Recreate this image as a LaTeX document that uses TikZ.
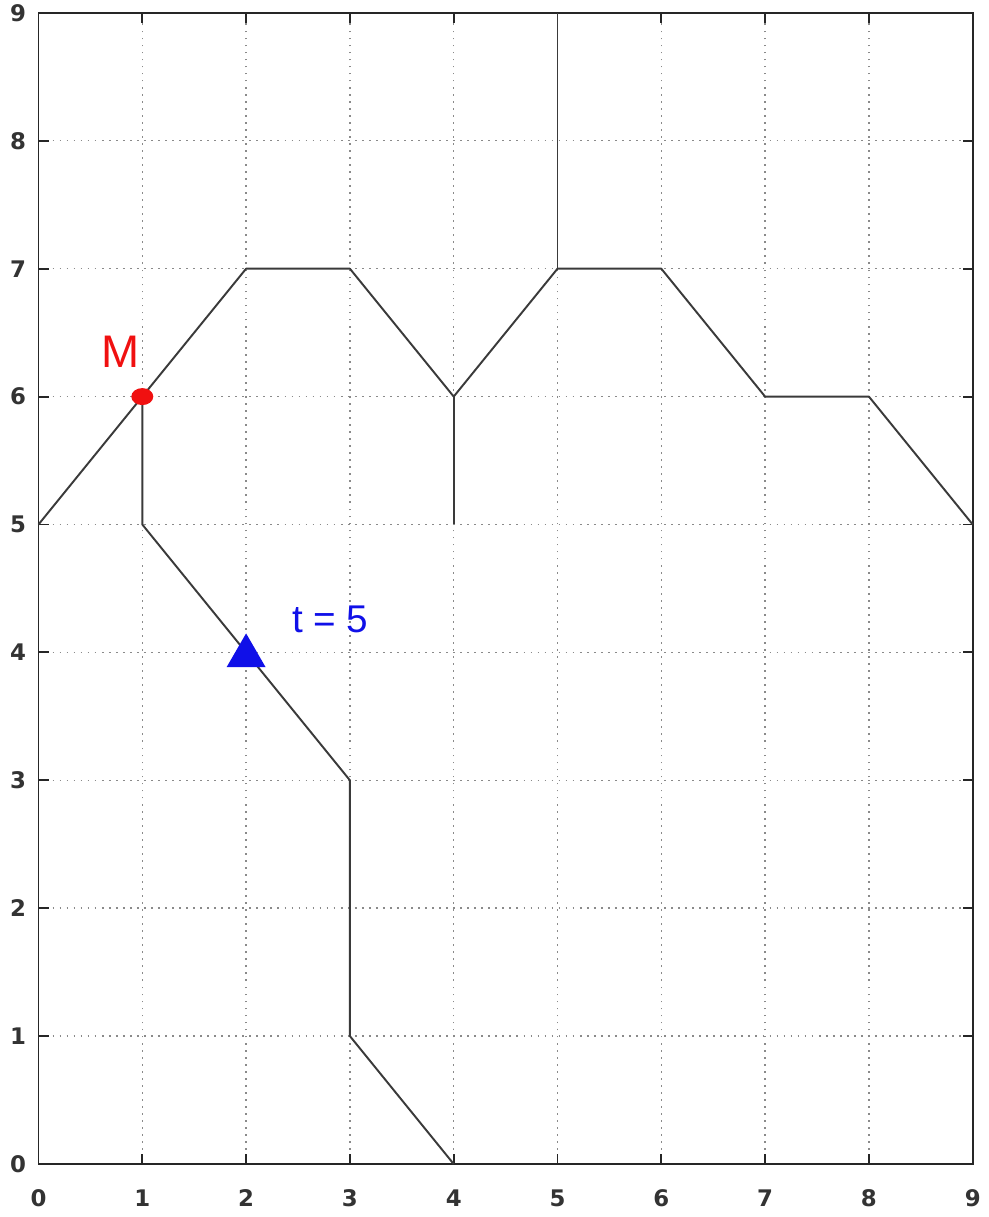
\documentclass[tikz,border=0pt]{standalone}
\usepackage{fontspec}
\setmainfont{DejaVu Sans}
\newfontfamily\markfont{Liberation Sans}
\usepackage{tikz}
\usetikzlibrary{shapes.geometric}
\definecolor{ink}{HTML}{3A3A3A}
\definecolor{gridgray}{HTML}{8A8A8A}
\definecolor{mred}{HTML}{F01010}
\definecolor{tblue}{HTML}{1010E8}
\tikzset{
  frame/.style={draw=black!85, line width=1.1pt},
  gridline/.style={draw=gridgray, line width=0.8pt, dash pattern=on 1pt off 3pt},
  tick/.style={draw=black!85, line width=1.1pt},
  ticklbl/.style={font=\fontsize{13}{13}\selectfont\bfseries, text=black!80, inner sep=0pt},
  route/.style={draw=ink, line width=1.1pt, line join=round},
  mdot/.style={ellipse, fill=mred, minimum width=0.44cm, minimum height=0.34cm, inner sep=0pt},
  tmark/.style={regular polygon, regular polygon sides=3, fill=tblue, minimum size=0.9cm, inner sep=0pt},
  lbl/.style={font=\markfont\fontsize{26}{26}\selectfont, inner sep=0pt}
}

\begin{document}
\begin{tikzpicture}[x=2.076cm, y=2.558cm]
  \useasboundingbox (-0.77cm,-1.06cm) rectangle (18.99cm,23.28cm);
  % grid
  \foreach \i in {1,...,8}
    { \draw[gridline] (\i,0) -- (\i,9);
      \draw[gridline] (0,\i) -- (9,\i); }
  % ticks and labels
  \foreach \i in {0,...,9}
    { \draw[tick] (\i,0) -- ++(0,0.2cm);
      \draw[tick] (\i,9) -- ++(0,-0.2cm);
      \draw[tick] (0,\i) -- ++(0.2cm,0);
      \draw[tick] (9,\i) -- ++(-0.2cm,0);
      \node[ticklbl] (xl\i) at ([yshift=-0.68cm]\i,0) {\i};
      \node[ticklbl] (yl\i) at ([xshift=-0.41cm]0,\i) {\i}; }
  \draw[frame] (0,0) rectangle (9,9);

  % vertices of the route
  \foreach \x/\y in {0/5, 1/6, 2/7, 3/7, 4/6, 5/7, 6/7, 7/6, 8/6, 9/5,
                     5/9, 4/5, 1/5, 3/3, 3/1, 4/0}
    { \coordinate (v\x\y) at (\x,\y); }

  \draw[route] (v05) -- (v16) -- (v27) -- (v37) -- (v46) -- (v57) -- (v67)
               -- (v76) -- (v86) -- (v95);
  \draw[route] (v57) -- (v59);
  \draw[route] (v46) -- (v45);
  \draw[route] (v16) -- (v15) -- (v33) -- (v31) -- (v40);

  \node[mdot] (M) at (v16) {};
  \node[lbl, text=mred] (Mlbl) at (0.795,6.35) {M};
  \node[tmark] (T) at ([yshift=-0.07cm]2,4) {};
  \node[lbl, text=tblue, font=\markfont\fontsize{22}{22}\selectfont] (Tlbl) at (2.81,4.26) {t = 5};
\end{tikzpicture}
\end{document}
